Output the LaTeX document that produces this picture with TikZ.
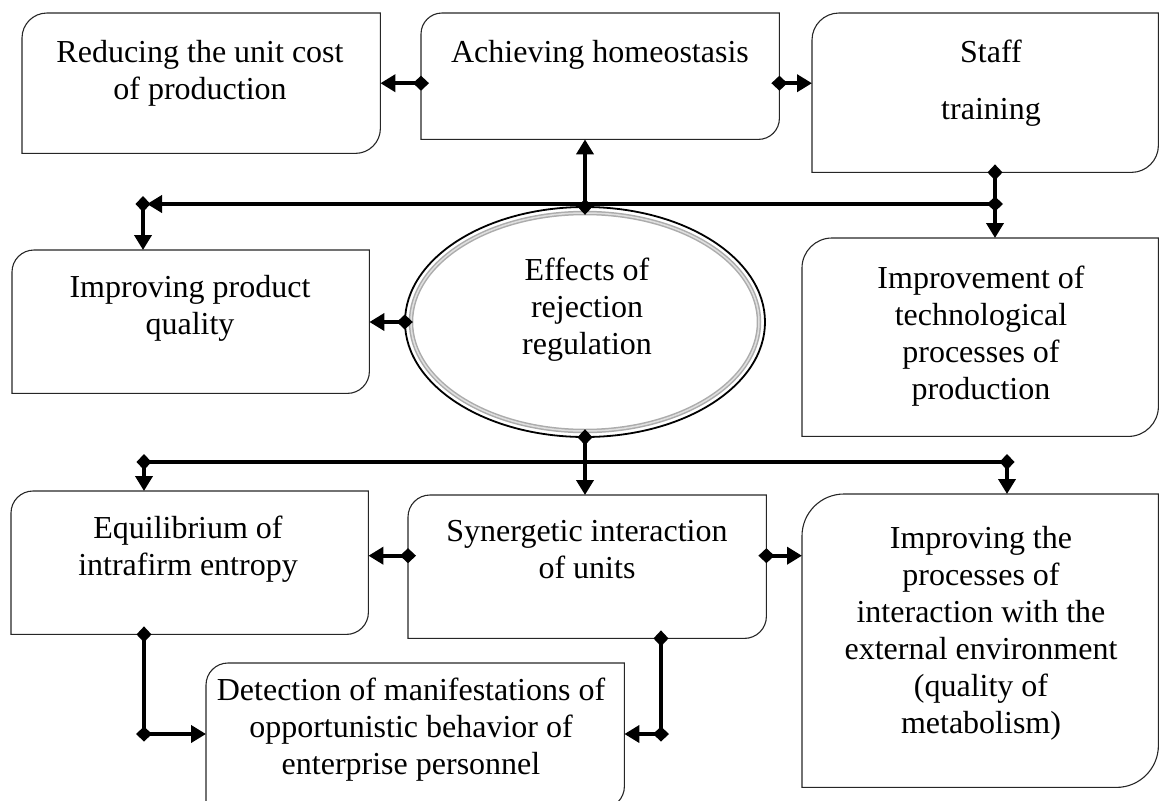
\documentclass[tikz,border=0pt]{standalone}
\usepackage{fontspec}
\setmainfont{Liberation Serif}
\usetikzlibrary{arrows.meta,shapes.geometric}

\tikzset{
  frame/.style={rectangle, draw=none, inner sep=0pt, anchor=north west},
  txt/.style={align=center, inner sep=0pt, anchor=north, font=\fontsize{32}{37}\selectfont},
  edge/.style={draw=black!85, line width=1.1pt},
  conn/.style={line width=4pt},
  link/.style={conn, {Diamond[length=16pt,width=15pt]}-{Triangle[length=15pt,width=17pt]}, shorten <=-8pt},
  tail/.style={conn, {Diamond[length=16pt,width=15pt]}-, shorten <=-8pt},
}

% box outline: rounded top-left and bottom-right corners, square elsewhere
\newcommand\cutbox[2]{%
  \draw[edge] (#1.south west) -- ([yshift=-#2]#1.north west)
    arc[start angle=180,end angle=90,radius=#2] -- (#1.north east)
    -- ([yshift=#2]#1.south east)
    arc[start angle=0,end angle=-90,radius=#2] -- cycle;}

\begin{document}
\begin{tikzpicture}[x=1pt,y=-1pt]
\useasboundingbox (0,0) rectangle (1160,801);

% boxes
\node[frame, minimum width=358pt, minimum height=140pt] (box1) at (22,13) {};
\node[frame, minimum width=358pt, minimum height=126pt] (box2) at (421,13) {};
\node[frame, minimum width=346pt, minimum height=159pt] (box3) at (812,13) {};
\node[frame, minimum width=357pt, minimum height=143pt] (box4) at (12,250) {};
\node[frame, minimum width=356pt, minimum height=198pt] (box5) at (802,238) {};
\node[frame, minimum width=357pt, minimum height=143pt] (box6) at (11,491) {};
\node[frame, minimum width=358pt, minimum height=143pt] (box7) at (408,495) {};
\node[frame, minimum width=356pt, minimum height=293pt] (box8) at (802,494) {};
\node[frame, minimum width=418pt, minimum height=145pt] (box9) at (206,663) {};

\cutbox{box1}{25pt}
\cutbox{box2}{21pt}
\cutbox{box3}{27pt}
\cutbox{box4}{22pt}
\cutbox{box5}{30pt}
\cutbox{box6}{22pt}
\cutbox{box7}{22pt}
\cutbox{box8}{42pt}
\cutbox{box9}{22pt}

% central ellipse with a double rim
\node[ellipse, draw=none, minimum width=360pt, minimum height=230pt] (eff) at (585,322) {};
\draw[black, line width=1.8pt] (eff.center) ellipse [x radius=180pt, y radius=115pt];
\draw[gray!65, line width=4.5pt] (eff.center) ellipse [x radius=174pt, y radius=109pt];
\draw[gray!25, line width=1.5pt] (eff.center) ellipse [x radius=174pt, y radius=109pt];

% texts
\node[txt] (t1) at (200,40) {Reducing the unit cost\\of production};
\node[txt] (t2) at (600,40) {Achieving homeostasis};
\node[txt] (t3) at (991,40) {Staff\\[20pt]training};
\node[txt] (t4) at (190,275) {Improving product\\quality};
\node[txt] (t5) at (981,266) {Improvement of\\technological\\processes of\\production};
\node[txt] (t6) at (587,258) {Effects of\\rejection\\regulation};
\node[txt] (t7) at (188,516) {Equilibrium of\\intrafirm entropy};
\node[txt] (t8) at (587,520) {Synergetic interaction\\of units};
\node[txt] (t9) at (981,526) {Improving the\\processes of\\interaction with the\\external environment\\(quality of\\metabolism)};
\node[txt] (t10) at (411,678) {Detection of manifestations of\\opportunistic behavior of\\enterprise personnel};

% junctions
\coordinate (jTL) at (143,204);
\coordinate (jTR) at (995,204);
\coordinate (jBL) at (144,462);
\coordinate (jBR) at (1007,462);
\coordinate (jL) at (144,734);
\coordinate (jR) at (661,734);

% upper connectors
\draw[link] (box2.west |- box1.east) -- (box1.east);
\draw[link] (box2.east |- box1.east) -- (box3.west |- box1.east);
\draw[link] (eff.north) -- (eff.north |- box2.south);
\draw[link, shorten >=4pt] (jTR) -- (jTL);
\draw[link] (jTL) -- (jTL |- box4.north);
\draw[link] (box3.south -| jTR) -- (jTR |- box5.north);
\draw[link] (eff.west) -- (eff.west -| box4.east);

% lower connectors
\draw[link] (eff.south) -- (eff.south |- box7.north);
\draw[conn] (jBL) -- (jBR);
\draw[link] (jBL) -- (jBL |- box6.north);
\draw[link] (jBR) -- (jBR |- box8.north);
\draw[link] ([yshift=11pt]box7.west) -- ([yshift=11pt]box7.west -| box6.east);
\draw[link] ([yshift=11pt]box7.east) -- ([yshift=11pt]box7.east -| box8.west);
\draw[tail] (jL |- box6.south) -- (jL);
\draw[link] (jL) -- (jL -| box9.west);
\draw[tail] (jR |- box7.south) -- (jR);
\draw[link] (jR) -- (jR -| box9.east);
\end{tikzpicture}
\end{document}
